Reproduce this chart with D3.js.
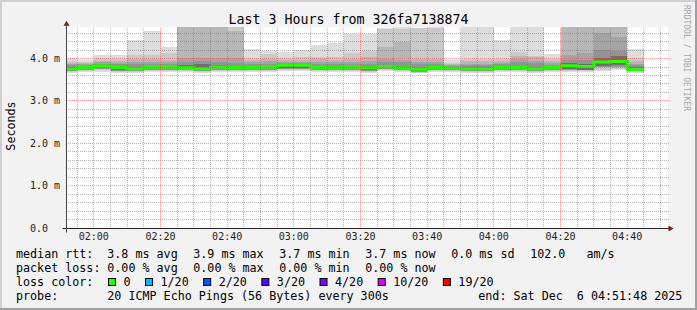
<!DOCTYPE html>
<html>
<head>
<meta charset="utf-8">
<script src="https://cdn.jsdelivr.net/npm/d3@7"></script>
<style>
  body { margin: 0; background: #f2f2f2; }
  svg { display: block; font-family: "DejaVu Sans Mono", monospace; }
  text { white-space: pre; }
</style>
</head>
<body>
<div id="chart"></div>
<script>
// column start times (5 min steps, first one is partial)
const slots = ["01:51:48", "01:55", "02:00", "02:05", "02:10", "02:15", "02:20", "02:25", "02:30", "02:35",
  "02:40", "02:45", "02:50", "02:55", "03:00", "03:05", "03:10", "03:15", "03:20", "03:25",
  "03:30", "03:35", "03:40", "03:45", "03:50", "03:55", "04:00", "04:05", "04:10", "04:15",
  "04:20", "04:25", "04:30", "04:35", "04:40"];
const lastSlotEnd = "04:45";

// median rtt per column (ms)
const median = [3.76, 3.79, 3.83, 3.79, 3.76, 3.80, 3.80, 3.78, 3.76, 3.80, 3.79, 3.79, 3.80, 3.84, 3.84, 3.79, 3.78, 3.80,
  3.78, 3.81, 3.78, 3.745, 3.79, 3.77, 3.76, 3.76, 3.79, 3.79, 3.76, 3.79, 3.83, 3.81, 3.92, 3.93, 3.745];

// sorted pings per column (ms), upper side
const ping20 = [4.01, 3.97, 4.09, 4.08, 4.44, 4.64, 4.26, 4.74, 4.74, 4.74, 4.74, 4.23, 4.18, 4.15, 4.19, 4.33, 4.36, 4.58,
  4.57, 4.72, 4.74, 4.73, 4.74, 3.97, 4.74, 4.74, 4.43, 4.74, 4.74, 4.11, 4.74, 4.74, 4.74, 4.74, 4.23];
const ping19 = [3.95, 3.93, 4.01, 3.99, 4.09, 4.09, 4.14, 4.74, 4.74, 4.74, 4.74, 4.02, 4.10, 4.01, 4.03, 4.03, 4.04, 4.13,
  4.17, 4.70, 4.70, 4.72, 4.72, 3.90, 3.99, 4.00, 4.00, 4.16, 4.07, 4.00, 4.74, 4.74, 4.74, 4.74, 4.01];
const ping18 = [3.90, 3.89, 3.95, 3.94, 3.99, 3.98, 3.97, 4.74, 4.74, 4.74, 4.66, 3.96, 4.00, 3.96, 3.97, 3.98, 3.97, 3.99,
  4.04, 4.26, 4.39, 3.99, 3.98, 3.86, 3.94, 3.94, 3.94, 4.07, 4.03, 3.95, 4.74, 4.74, 4.74, 4.74, 3.94];
const ping17 = [3.87, 3.86, 3.91, 3.90, 3.92, 3.93, 3.92, 4.01, 4.01, 4.01, 4.01, 3.91, 3.94, 3.93, 3.93, 3.93, 3.93, 3.93,
  3.95, 4.00, 3.97, 3.92, 3.92, 3.84, 3.88, 3.88, 3.89, 3.98, 3.95, 3.89, 4.08, 4.13, 4.61, 4.50, 3.88];
const ping16 = [3.84, 3.84, 3.88, 3.86, 3.86, 3.88, 3.87, 3.93, 3.95, 3.92, 3.90, 3.87, 3.88, 3.90, 3.90, 3.88, 3.87, 3.88,
  3.88, 3.91, 3.91, 3.86, 3.87, 3.82, 3.84, 3.84, 3.86, 3.91, 3.89, 3.85, 3.97, 3.97, 4.21, 4.17, 3.84];
const ping15 = [3.79, 3.82, 3.86, 3.82, 3.79, 3.83, 3.83, 3.85, 3.86, 3.84, 3.83, 3.82, 3.83, 3.87, 3.87, 3.83, 3.81, 3.83,
  3.82, 3.84, 3.82, 3.78, 3.82, 3.80, 3.79, 3.79, 3.82, 3.83, 3.80, 3.82, 3.89, 3.88, 4.02, 4.06, 3.81];
// lower side
const ping6 = [3.73, 3.76, 3.79, 3.72, 3.73, 3.77, 3.77, 3.75, 3.73, 3.77, 3.76, 3.76, 3.77, 3.77, 3.77, 3.76, 3.75, 3.77,
  3.73, 3.78, 3.75, 3.71, 3.76, 3.74, 3.73, 3.73, 3.76, 3.76, 3.73, 3.76, 3.76, 3.74, 3.83, 3.84, 3.72];
const ping5 = [3.71, 3.74, 3.76, 3.71, 3.71, 3.74, 3.74, 3.73, 3.71, 3.74, 3.74, 3.74, 3.74, 3.75, 3.75, 3.74, 3.73, 3.74,
  3.71, 3.75, 3.73, 3.69, 3.74, 3.72, 3.71, 3.71, 3.74, 3.74, 3.71, 3.74, 3.74, 3.72, 3.79, 3.80, 3.70];
const ping2 = [3.68, 3.71, 3.72, 3.69, 3.69, 3.71, 3.71, 3.70, 3.69, 3.71, 3.71, 3.71, 3.71, 3.72, 3.72, 3.71, 3.70, 3.71,
  3.69, 3.72, 3.70, 3.67, 3.71, 3.70, 3.69, 3.69, 3.71, 3.71, 3.69, 3.71, 3.71, 3.70, 3.74, 3.75, 3.68];
const ping1 = [3.65, 3.69, 3.69, 3.67, 3.67, 3.69, 3.68, 3.68, 3.67, 3.69, 3.68, 3.69, 3.69, 3.70, 3.70, 3.69, 3.68, 3.69,
  3.67, 3.70, 3.68, 3.65, 3.69, 3.68, 3.67, 3.67, 3.69, 3.69, 3.67, 3.69, 3.69, 3.68, 3.71, 3.72, 3.66];

const yTicks = [0, 1, 2, 3, 4];
const rttStats = ["3.8 ms avg", "3.9 ms max", "3.7 ms min", "3.7 ms now", "0.0 ms sd", "102.0   am/s"];
const lossStats = ["0.00 % avg", "0.00 % max", "0.00 % min", "0.00 % now"];
const lossLabels = ["0", "1/20", "2/20", "3/20", "4/20", "10/20", "19/20"];
const lossColors = ["#26ff00", "#00b8ff", "#0059ff", "#5e00ff", "#7e00ff", "#dd00ff", "#ff0000"];
const probeText = "20 ICMP Echo Pings (56 Bytes) every 300s";
const endText = "end: Sat Dec  6 04:51:48 2025";
const title = "Last 3 Hours from 326fa7138874";

const width = 697, height = 310;
const toDate = s => {
    const p = s.split(":").map(Number);
    return new Date(2025, 11, 6, p[0], p[1], p[2] || 0);
};
const tStart = toDate("01:51:48"), tEnd = toDate("04:51:48");

const x = d3.scaleTime().domain([tStart, tEnd]).range([66.5, 666.5]);
const y = d3.scaleLinear().domain([0, 4.75]).range([228.3, 26.7]);
const pxi = v => Math.floor(v);

const svg = d3.select("#chart").append("svg")
    .attr("width", width)
    .attr("height", height);

// dotted grid patterns
const defs = svg.append("defs");
const minorCol = "rgba(110,110,110,0.5)", majorCol = "rgba(255,50,50,0.5)";
[["hMinor", 2, 1, minorCol], ["hMajor", 2, 1, majorCol], ["vMinor", 1, 2, minorCol], ["vMajor", 1, 2, majorCol]]
    .forEach(([id, w, h, c]) => {
        defs.append("pattern").attr("id", id)
            .attr("patternUnits", "userSpaceOnUse")
            .attr("width", w).attr("height", h)
            .append("rect").attr("width", 1).attr("height", 1).attr("fill", c);
    });

// frame
svg.append("rect").attr("width", width).attr("height", height).attr("fill", "#f2f2f2");
svg.append("path").attr("d", `M1,${height} V1 H${width}`).attr("stroke", "#d0d0d0").attr("stroke-width", 2).attr("fill", "none");
svg.append("path").attr("d", `M0,${height - 1} H${width - 1} V0`).attr("stroke", "#a0a0a0").attr("stroke-width", 2).attr("fill", "none");

// plot canvas
const x0 = x.range()[0], x1 = x.range()[1], yTop = y.range()[1], yBot = y.range()[0];
svg.append("rect")
    .attr("x", 67).attr("y", 27)
    .attr("width", 601).attr("height", 201)
    .attr("fill", "#ffffff");

svg.append("clipPath").attr("id", "plotclip")
    .append("rect")
    .attr("x", 67).attr("y", 27)
    .attr("width", 600).attr("height", 201);

// step points: each column start, plus end of last column
const pts = slots.map((s, i) => ({ t: toDate(s), i }));
pts.push({ t: toDate(lastSlotEnd), i: slots.length - 1 });

const bands = [
    { lo: ping1, hi: ping20, color: "#dddddd" },
    { lo: ping2, hi: ping19, color: "#cacaca" },
    { lo: ping5, hi: ping18, color: "#b7b7b7" },
    { lo: ping5, hi: ping17, color: "#a4a4a4" },
    { lo: ping5, hi: ping16, color: "#939393" },
    { lo: ping6, hi: ping15, color: "#6e6e6e" }
];

const plot = svg.append("g").attr("clip-path", "url(#plotclip)");

bands.forEach(b => {
    const area = d3.area()
        .curve(d3.curveStepAfter)
        .x(d => x(d.t))
        .y0(d => y(b.lo[d.i]))
        .y1(d => y(b.hi[d.i]));
    plot.append("path")
        .datum(pts)
        .attr("d", area)
        .attr("fill", b.color)
        .attr("shape-rendering", "crispEdges");
});

// grid (1px dotted)
const grid = svg.append("g").attr("shape-rendering", "crispEdges");
d3.range(1, 24).map(k => k * 0.2).forEach(v => {
    const major = Math.abs(v - Math.round(v)) < 1e-6;
    grid.append("rect")
        .attr("x", 67).attr("width", 602)
        .attr("y", pxi(y(v))).attr("height", 1)
        .attr("fill", major ? "url(#hMajor)" : "url(#hMinor)");
});
d3.timeMinute.every(5).range(tStart, tEnd).forEach(t => {
    const major = t.getMinutes() % 20 === 0;
    grid.append("rect")
        .attr("x", pxi(x(t))).attr("width", 1)
        .attr("y", 27).attr("height", 201)
        .attr("fill", major ? "url(#vMajor)" : "url(#vMinor)");
});

// median line
const medianLine = d3.line()
    .curve(d3.curveStepAfter)
    .x(d => x(d.t))
    .y(d => y(median[d.i]));
plot.append("path")
    .datum(pts)
    .attr("d", medianLine)
    .attr("fill", "none")
    .attr("stroke", lossColors[0])
    .attr("stroke-width", 3);

// axes
const axisY = pxi(y(0)) + 0.5;
svg.append("line").attr("x1", x0 - 4).attr("x2", x1 + 4).attr("y1", axisY).attr("y2", axisY).attr("stroke", "#222");
svg.append("line").attr("x1", x0).attr("x2", x0).attr("y1", axisY + 4).attr("y2", yTop - 2).attr("stroke", "#444");
svg.append("path").attr("d", `M${x1 + 2},${axisY - 3} L${x1 + 7},${axisY} L${x1 + 2},${axisY + 3} Z`).attr("fill", "#7a1c1c");
svg.append("path").attr("d", `M${x0 - 3},${yTop - 1} L${x0},${yTop - 6} L${x0 + 3},${yTop - 1} Z`).attr("fill", "#7a1c1c");

// y labels
svg.append("g").selectAll("text")
    .data(yTicks)
    .enter()
    .append("text")
    .attr("x", 30)
    .attr("y", d => pxi(y(d)) + 4)
    .style("font-size", "10px")
    .style("fill", "#222")
    .text(d => d.toFixed(1) + (d === 0 ? "" : " m"));

// x labels
svg.append("g").selectAll("text")
    .data(x.ticks(d3.timeMinute.every(20)))
    .enter()
    .append("text")
    .attr("x", d => x(d))
    .attr("y", 240)
    .attr("text-anchor", "middle")
    .style("font-size", "10px")
    .style("fill", "#222")
    .text(d3.timeFormat("%H:%M"));

// titles
svg.append("text")
    .attr("x", width / 2)
    .attr("y", 24)
    .attr("text-anchor", "middle")
    .style("font-size", "13.3px")
    .style("fill", "#000")
    .text(title);

svg.append("text")
    .attr("transform", `translate(15,126) rotate(-90)`)
    .attr("text-anchor", "middle")
    .style("font-size", "11.7px")
    .style("fill", "#000")
    .text("Seconds");

svg.append("text")
    .attr("transform", `translate(684,5) rotate(90)`)
    .style("font-size", "8px")
    .style("fill", "#a8a8a8")
    .text("RRDTOOL / TOBI OETIKER");

// legend
const legend = svg.append("g").style("font-size", "11.7px").style("fill", "#000");
const valueX = 107.3, gap = 15.6;

function row(label, items, yPos) {
    legend.append("text").attr("x", 16).attr("y", yPos).text(label);
    let cx = valueX;
    items.forEach(s => {
        const t = legend.append("text").attr("x", cx).attr("y", yPos).text(s);
        cx += t.node().getComputedTextLength() + gap;
    });
}
row("median rtt:", rttStats, 258);
row("packet loss:", lossStats, 272);

legend.append("text").attr("x", 16).attr("y", 286).text("loss color:");
let bx = 108.5;
lossLabels.forEach((l, i) => {
    legend.append("rect")
        .attr("x", bx).attr("y", 278.5)
        .attr("width", 7).attr("height", 7)
        .attr("fill", lossColors[i])
        .attr("stroke", "#000");
    const t = legend.append("text").attr("x", bx + 15).attr("y", 286).text(l);
    bx = bx + 15 + t.node().getComputedTextLength() + 15;
});

legend.append("text").attr("x", 16).attr("y", 300).text("probe:");
legend.append("text").attr("x", valueX).attr("y", 300).text(probeText);
legend.append("text").attr("x", 478.3).attr("y", 300).text(endText);
</script>
</body>
</html>
